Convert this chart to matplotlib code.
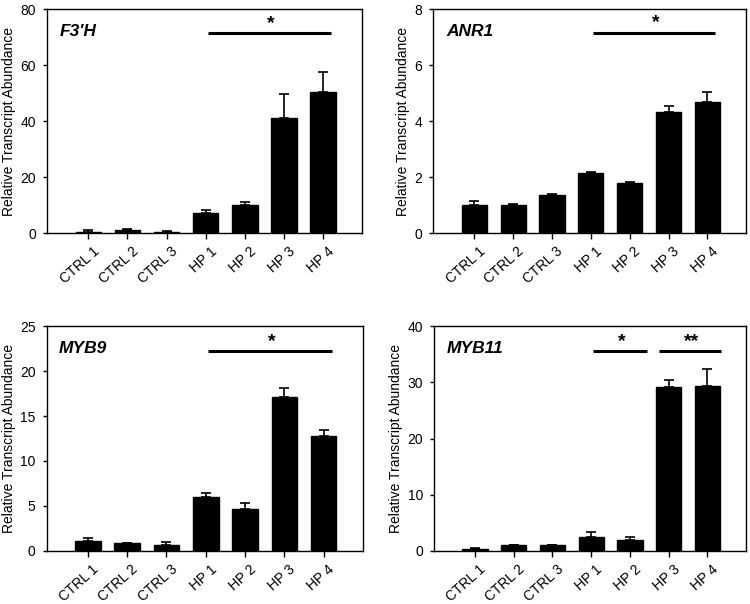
import matplotlib.pyplot as plt
import matplotlib.transforms as mtransforms

plt.rcParams['font.family'] = ['Liberation Sans', 'DejaVu Sans']

groups = ['CTRL 1', 'CTRL 2', 'CTRL 3', 'HP 1', 'HP 2', 'HP 3', 'HP 4']

f3h_mean = [0.5, 1.0, 0.5, 7.1, 10.0, 41.0, 50.4]
f3h_err = [0.5, 0.6, 0.4, 1.2, 1.2, 8.6, 7.0]

anr1_mean = [1.0, 1.0, 1.35, 2.15, 1.8, 4.34, 4.68]
anr1_err = [0.16, 0.05, 0.06, 0.04, 0.03, 0.21, 0.35]

myb9_mean = [1.08, 0.82, 0.7, 5.95, 4.65, 17.1, 12.8]
myb9_err = [0.37, 0.08, 0.34, 0.45, 0.7, 1.0, 0.66]

myb11_mean = [0.24, 1.0, 1.0, 2.5, 1.9, 29.1, 29.4]
myb11_err = [0.18, 0.1, 0.1, 0.9, 0.6, 1.4, 2.9]

panels = [
    # name, means, errs, ymax, ystep, significance bars (x0, x1, y, stars)
    ("F3'H", f3h_mean, f3h_err, 80, 20, [(3.05, 6.2, 71.4, '*')]),
    ('ANR1', anr1_mean, anr1_err, 8, 2, [(3.05, 6.2, 7.16, '*')]),
    ('MYB9', myb9_mean, myb9_err, 25, 5, [(3.05, 6.2, 22.2, '*')]),
    ('MYB11', myb11_mean, myb11_err, 40, 10, [(3.05, 4.45, 35.5, '*'), (4.75, 6.35, 35.5, '**')]),
]

positions = [
    [0.063, 0.614, 0.42, 0.371],
    [0.578, 0.614, 0.417, 0.371],
    [0.062, 0.088, 0.422, 0.372],
    [0.579, 0.088, 0.416, 0.372],
]

fig = plt.figure(figsize=(7.5, 6.04), dpi=100)
shift = mtransforms.ScaledTranslation(3 / 72, 0, fig.dpi_scale_trans)

for pos, (name, means, errs, ymax, ystep, sigs) in zip(positions, panels):
    ax = fig.add_axes(pos)
    x = list(range(len(groups)))
    ax.bar(x, means, width=0.65, color='black', edgecolor='black')
    ax.errorbar(x, means, yerr=[[0] * len(errs), errs], fmt='none',
                ecolor='black', elinewidth=1.2, capsize=3.5, capthick=1.2)
    ax.set_xlim(-1.05, 7.0)
    ax.set_ylim(0, ymax)
    ax.set_yticks(range(0, ymax + 1, ystep))
    ax.set_xticks(x)
    ax.set_xticklabels(groups, rotation=42, ha='right', rotation_mode='anchor')
    ax.tick_params(direction='out', width=1, labelsize=10, colors='black')
    ax.tick_params(axis='y', length=3, pad=5)
    ax.tick_params(axis='x', length=4, pad=4)
    for lab in ax.get_xticklabels():
        lab.set_transform(lab.get_transform() + shift)
    for s in ax.spines.values():
        s.set_linewidth(1)
    ax.set_ylabel('Relative Transcript Abundance', fontsize=10, labelpad=3)
    ax.text(0.04, 0.935, name, transform=ax.transAxes, fontsize=12.5,
            fontweight='bold', fontstyle='italic', va='top', ha='left')
    for x0, x1, y, star in sigs:
        ax.plot([x0, x1], [y, y], color='black', lw=2.2, solid_capstyle='butt')
        ax.text((x0 + x1) / 2 + 0.05, y + ymax * 0.005, star, ha='center',
                va='bottom', fontsize=14, fontweight='bold')

fig.savefig('out.png', dpi=100)
